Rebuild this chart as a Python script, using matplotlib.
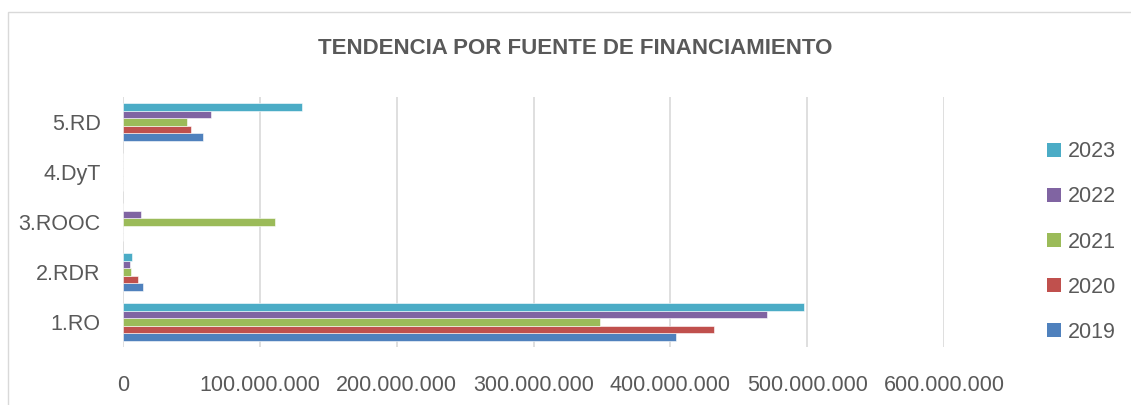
import matplotlib
matplotlib.use("Agg")
import matplotlib.pyplot as plt
import matplotlib.ticker as mticker
from matplotlib.patches import Rectangle, Patch
import numpy as np

categories = ["1.RO", "2.RDR", "3.ROOC", "4.DyT", "5.RD"]
years = ["2019", "2020", "2021", "2022", "2023"]
v2019 = [404.3e6, 14.7e6, 0, 0, 58.2e6]
v2020 = [431.8e6, 10.6e6, 0, 0, 49.9e6]
v2021 = [348.9e6, 6.0e6, 111.3e6, 0, 46.5e6]
v2022 = [470.5e6, 5.3e6, 13.0e6, 0, 64.5e6]
v2023 = [497.7e6, 6.6e6, 0, 0, 130.9e6]
series = [v2019, v2020, v2021, v2022, v2023]
colors = ["#4F81BD", "#C0504D", "#9BBB59", "#8064A2", "#4BACC6"]
xticks = [0, 100e6, 200e6, 300e6, 400e6, 500e6, 600e6]

W, H = 1131, 405
fig = plt.figure(figsize=(W / 100, H / 100), dpi=100)
plt.rcParams['font.family'] = ['Liberation Sans', 'DejaVu Sans']

# chart border
fig.patches.append(Rectangle((8 / W, -0.05), 1.1, 1 - 12 / H + 0.05, transform=fig.transFigure,
                             fill=False, edgecolor="#D9D9D9", linewidth=1.0))

ax = fig.add_axes([123 / W, 1 - 347 / H, (944 - 123) / W, (347 - 97) / H])
y = np.arange(len(categories))
group = 0.76
bh = group / len(series)
for i, (vals, c, lab) in enumerate(zip(series, colors, years)):
    off = -group / 2 + bh * (i + 0.5)
    ax.barh(y + off, vals, height=bh, color=c, edgecolor="white", linewidth=0.4, label=lab, zorder=3)

ax.set_xlim(0, 600e6)
ax.set_ylim(-0.5, len(categories) - 0.5)
ax.set_xticks(xticks)
ax.xaxis.set_major_formatter(mticker.FuncFormatter(lambda v, p: "0" if v == 0 else f"{int(v):,}".replace(",", ".")))
ax.set_yticks(y)
ax.set_yticklabels(categories)
ax.grid(axis="x", color="#D9D9D9", linewidth=1.2, zorder=0)
ax.grid(axis="y", visible=False)
for s in ax.spines.values():
    s.set_visible(False)
ax.tick_params(axis="both", length=0, labelsize=15.5, colors="#595959")
ax.tick_params(axis="x", pad=20)
ax.tick_params(axis="y", pad=16)

fig.text(575 / W, 1 - 49 / H, "TENDENCIA POR FUENTE DE FINANCIAMIENTO", ha="center", va="center",
         fontsize=16, fontweight="bold", color="#595959")

handles = [Patch(facecolor=c, edgecolor="none") for c in colors][::-1]
labels = years[::-1]
fig.legend(handles, labels, loc="center left", bbox_to_anchor=(1047 / W, 1 - 242 / H), frameon=False,
           fontsize=15.5, labelcolor="#595959", handlelength=0.65, handleheight=0.65, handletextpad=0.33,
           labelspacing=1.12, borderpad=0, borderaxespad=0)

fig.savefig("out.png", dpi=100)
